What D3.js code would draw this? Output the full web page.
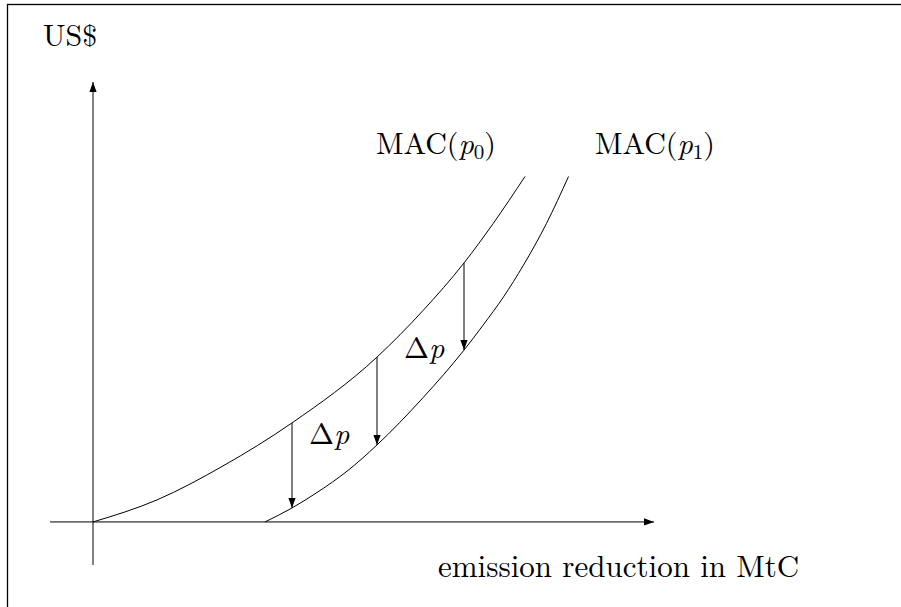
<!DOCTYPE html>
<html>
<head>
<meta charset="utf-8">
<script src="https://cdn.jsdelivr.net/npm/d3@7"></script>
<style>
  body { margin: 0; background: #fff; }
</style>
</head>
<body>
<div id="chart"></div>
<script>
var svgWidth = 901;
var svgHeight = 607;

// curve MAC(p0): [emission reduction, US$]
var macP0 = [[0, 0], [12.8, 6.3], [26, 16.0], [39.8, 28.3], [56.8, 47.1], [66, 60.4], [74.2, 74.0], [80, 85.2], [86.4, 98.7]];
// curve MAC(p1), shifted down by delta p
var macP1 = [[34.4, 0], [39.8, 4], [45, 8.6], [50.8, 14.5], [56.8, 22], [66, 35.5], [74.2, 49.1], [78, 56.2], [82.1, 64.3], [86.1, 73.4], [90.7, 85.3], [95.1, 98.7]];

// the delta p arrows
var arrowX = [39.8, 56.8, 74.2];
var arrowTop = [28.3, 47.1, 74.0];
var arrowBottom = [4, 22, 49.1];

// scales (axis extents are the domains)
var xScale = d3.scaleLinear().domain([-8.6, 112.2]).range([50, 654]);
var yScale = d3.scaleLinear().domain([-12.3, 125.7]).range([565, 82]);

var svg = d3.select("#chart")
  .append("svg")
  .attr("width", svgWidth)
  .attr("height", svgHeight);

// arrow head marker
var defs = svg.append("defs");
defs.append("marker")
  .attr("id", "head")
  .attr("markerUnits", "userSpaceOnUse")
  .attr("viewBox", "0 -4 10 8")
  .attr("refX", 10)
  .attr("refY", 0)
  .attr("markerWidth", 10)
  .attr("markerHeight", 8)
  .attr("orient", "auto")
  .append("path")
  .attr("d", "M0,-3.6L10,0L0,3.6Z")
  .attr("fill", "#000");

// frame (continues past the right / bottom edge)
svg.append("rect")
  .attr("x", 7.5)
  .attr("y", 4.5)
  .attr("width", 1000)
  .attr("height", 1000)
  .attr("fill", "none")
  .attr("stroke", "#000")
  .attr("stroke-width", 1.3);

// axes
var xd = xScale.domain(), yd = yScale.domain();
svg.append("line")
  .attr("x1", xScale(xd[0])).attr("y1", yScale(0))
  .attr("x2", xScale(xd[1])).attr("y2", yScale(0))
  .attr("stroke", "#000").attr("stroke-width", 1)
  .attr("marker-end", "url(#head)");

svg.append("line")
  .attr("x1", xScale(0)).attr("y1", yScale(yd[0]))
  .attr("x2", xScale(0)).attr("y2", yScale(yd[1]))
  .attr("stroke", "#000").attr("stroke-width", 1)
  .attr("marker-end", "url(#head)");

// curves
var line = d3.line()
  .x(d => xScale(d[0]))
  .y(d => yScale(d[1]))
  .curve(d3.curveMonotoneX);

svg.append("path")
  .attr("d", line(macP0))
  .attr("fill", "none")
  .attr("stroke", "#000")
  .attr("stroke-width", 1);

svg.append("path")
  .attr("d", line(macP1))
  .attr("fill", "none")
  .attr("stroke", "#000")
  .attr("stroke-width", 1);

// delta p arrows
svg.selectAll("line.dp")
  .data(arrowX)
  .enter()
  .append("line")
  .attr("class", "dp")
  .attr("x1", d => xScale(d))
  .attr("x2", d => xScale(d))
  .attr("y1", (d, i) => yScale(arrowTop[i]))
  .attr("y2", (d, i) => yScale(arrowBottom[i]))
  .attr("stroke", "#000")
  .attr("stroke-width", 1)
  .attr("marker-end", "url(#head)");

// labels
function label(x, y) {
  return svg.append("text")
    .attr("x", x)
    .attr("y", y)
    .style("font-family", "'Latin Modern Roman'")
    .style("font-size", "30px")
    .attr("fill", "#000");
}

label(43, 46).text("US$");

label(438, 577)
  .style("font-size", "31px")
  .text("emission reduction in MtC");

function macLabel(x, sub) {
  var t = label(x, 154);
  t.append("tspan").text("MAC(");
  t.append("tspan").style("font-style", "italic").text("p");
  t.append("tspan").style("font-size", "21px").attr("dy", 4.5).text(sub);
  t.append("tspan").attr("dy", -4.5).text(")");
}
macLabel(376, "0");
macLabel(595, "1");

function dpLabel(x, y) {
  var t = label(x, y);
  t.append("tspan").text("Δ");
  t.append("tspan").style("font-style", "italic").text("p");
}
dpLabel(309, 444);
dpLabel(404, 358);
</script>
</body>
</html>
